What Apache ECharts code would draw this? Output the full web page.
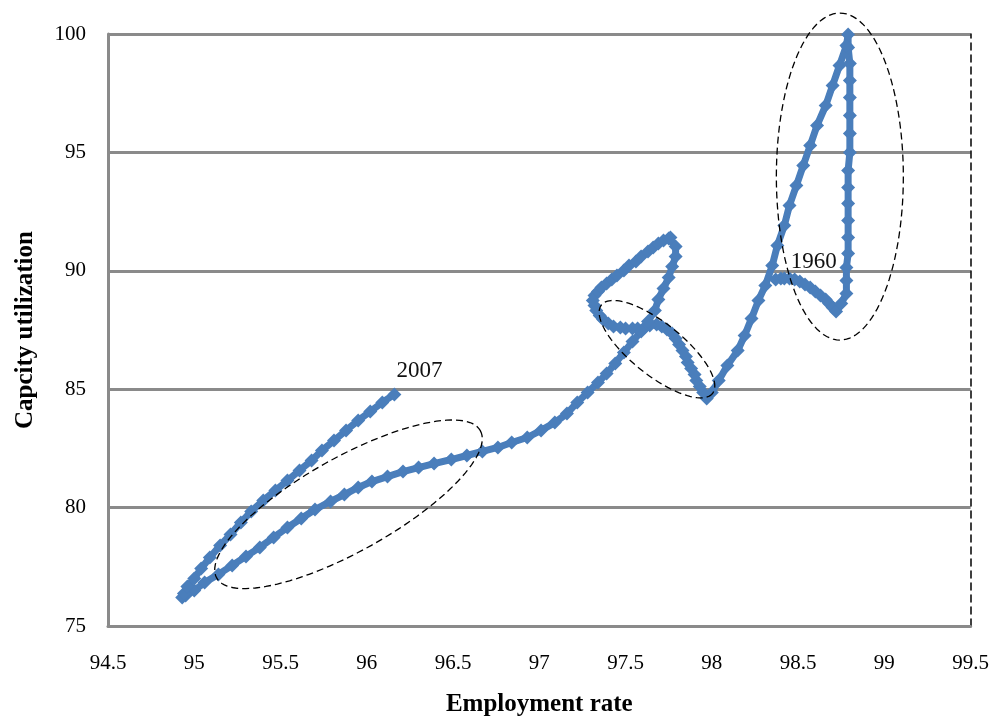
<!DOCTYPE html>
<html><head><meta charset="utf-8">
<script src="https://cdn.jsdelivr.net/npm/echarts@6/dist/echarts.min.js"></script>
<style>html,body{margin:0;padding:0;background:#fff}#c{width:992px;height:725px}</style>
</head><body><div id="c"></div>
<script>
// Employment rate (x) and capacity utilization (y), 1960 -> 2007
const employmentRate = [
  98.37,98.40,98.42,98.45,98.48,98.51,98.54,98.57,98.60,98.63,98.66,98.68,98.70,98.72,98.75,98.78,
  98.78,98.78,98.79,98.79,98.79,98.79,98.79,98.79,98.80,98.80,98.80,98.80,98.80,98.80,98.79,98.79,
  98.78,98.74,98.70,98.66,98.61,98.57,98.53,98.49,98.45,98.42,98.38,98.35,98.31,98.27,98.23,98.19,98.15,98.09,98.04,98.00,97.97,
  97.95,97.93,97.91,97.90,97.88,97.86,97.85,97.83,97.81,97.79,97.77,97.74,97.71,97.68,97.64,97.61,97.57,97.54,97.50,97.47,97.43,97.40,97.37,97.35,97.33,97.32,97.31,97.32,97.34,
  97.36,97.39,97.42,97.45,97.49,97.52,97.56,97.59,97.63,97.66,97.69,97.72,97.75,97.76,
  97.79,97.79,97.77,97.75,97.72,97.69,97.67,97.63,97.59,97.54,97.49,97.44,97.39,97.34,97.28,97.22,97.16,97.09,97.01,96.93,96.84,96.76,96.67,96.58,96.49,96.39,96.30,96.21,96.12,96.03,95.95,95.87,95.79,95.70,95.62,95.54,95.46,95.38,95.30,95.22,95.14,95.06,95.00,94.95,94.93,
  94.94,94.96,95.00,95.04,95.09,95.15,95.21,95.27,95.33,95.40,95.47,95.54,95.61,95.68,95.74,95.81,95.88,95.95,96.02,96.09,96.16
];
const capacityUtilization = [
  89.63,89.67,89.67,89.67,89.63,89.55,89.42,89.30,89.13,88.96,88.79,88.62,88.45,88.28,88.62,89.04,
  89.59,90.14,90.73,91.41,92.12,92.84,93.52,94.24,95.00,95.80,96.56,97.32,98.04,98.75,99.43,99.98,
  99.51,98.67,97.83,96.98,96.14,95.29,94.45,93.60,92.76,91.91,91.07,90.22,89.38,88.75,87.99,87.27,86.63,86.00,85.37,84.86,84.61,
  84.86,85.11,85.37,85.62,85.87,86.13,86.38,86.63,86.89,87.14,87.35,87.52,87.65,87.73,87.69,87.61,87.56,87.56,87.56,87.61,87.65,87.77,87.94,88.11,88.32,88.53,88.75,88.96,89.13,
  89.29,89.46,89.63,89.80,90.01,90.22,90.39,90.60,90.82,90.98,91.15,91.28,91.36,91.41,
  91.03,90.60,90.18,89.72,89.25,88.79,88.32,87.86,87.44,87.01,86.55,86.09,85.66,85.28,84.86,84.44,83.97,83.59,83.26,82.96,82.75,82.54,82.37,82.20,82.03,81.86,81.69,81.52,81.31,81.10,80.85,80.55,80.26,79.92,79.54,79.16,78.74,78.32,77.94,77.56,77.18,76.84,76.50,76.29,76.20,
  76.37,76.67,77.01,77.43,77.89,78.40,78.86,79.37,79.84,80.30,80.72,81.14,81.57,81.99,82.41,82.83,83.26,83.68,84.06,84.44,84.78
];
const startYear = '1960';
const endYear = '2007';
const xTicks = [94.5, 95, 95.5, 96, 96.5, 97, 97.5, 98, 98.5, 99, 99.5];
const yTicks = [75, 80, 85, 90, 95, 100];
const xTitle = 'Employment rate';
const yTitle = 'Capcity utilization';

// annotation ellipses: centre in data units, radii in pixels, rotation in degrees
const ellipseCenters = [[98.742, 93.98], [97.682, 86.69], [95.894, 80.14]];
const ellipseRadii = [[63.5, 163.5], [71, 26], [151, 47]];
const ellipseRot = [0, 38.6, -29.2];

const FONT = '"Liberation Serif", "Times New Roman", serif';
const chart = echarts.init(document.getElementById('c'), null, {renderer: 'canvas'});

const data = employmentRate.map((x, i) => [x, capacityUtilization[i]]);
const seriesData = data.map((v, i) => {
  if (i === 0) return {value: v, label: {show: true, formatter: startYear, position: 'right', offset: [3, -18]}};
  if (i === data.length - 1) return {value: v, label: {show: true, formatter: endYear, position: 'right', offset: [-10, -23]}};
  return v;
});

const gridColor = '#8a8a8a';
chart.setOption({
  animation: false,
  backgroundColor: '#fff',
  grid: {left: 108, right: 21, top: 34, bottom: 99, containLabel: false},
  xAxis: {
    type: 'value', min: xTicks[0], max: xTicks[xTicks.length - 1], interval: 0.5,
    name: xTitle, nameLocation: 'middle', nameGap: 66,
    nameTextStyle: {fontFamily: FONT, fontSize: 25, fontWeight: 'bold', color: '#000'},
    axisLine: {show: true, onZero: false, lineStyle: {color: gridColor, width: 3}},
    axisTick: {show: false},
    axisLabel: {fontFamily: FONT, fontSize: 21, color: '#000', margin: 27},
    splitLine: {show: false}
  },
  yAxis: [{
    type: 'value', min: yTicks[0], max: yTicks[yTicks.length - 1], interval: 5,
    name: yTitle, nameLocation: 'middle', nameGap: 70,
    nameTextStyle: {fontFamily: FONT, fontSize: 25, fontWeight: 'bold', color: '#000'},
    axisLine: {show: true, onZero: false, lineStyle: {color: gridColor, width: 3}},
    axisTick: {show: false},
    axisLabel: {fontFamily: FONT, fontSize: 21, color: '#000', margin: 22},
    splitLine: {show: true, lineStyle: {color: gridColor, width: 3}}
  }, {
    type: 'value', position: 'right', min: yTicks[0], max: yTicks[yTicks.length - 1], interval: 5,
    axisLine: {show: true, onZero: false, lineStyle: {color: '#000', width: 1.5, type: [7, 5]}},
    axisTick: {show: false}, axisLabel: {show: false}, splitLine: {show: false}
  }],
  series: [{
    type: 'line',
    data: seriesData,
    showAllSymbol: true,
    symbol: 'diamond',
    symbolSize: 14,
    itemStyle: {color: '#4A7EBB'},
    lineStyle: {color: '#4A7EBB', width: 7},
    label: {fontFamily: FONT, fontSize: 23, color: '#111'},
    z: 3
  }]
});

function ellipsePoints(c, rx, ry, deg) {
  const th = deg * Math.PI / 180, pts = [];
  for (let k = 0; k < 120; k++) {
    const t = 2 * Math.PI * k / 120;
    const ex = rx * Math.cos(t), ey = ry * Math.sin(t);
    pts.push([c[0] + ex * Math.cos(th) - ey * Math.sin(th), c[1] + ex * Math.sin(th) + ey * Math.cos(th)]);
  }
  return pts;
}
const graphics = ellipseCenters.map((ctr, i) => {
  const p = chart.convertToPixel({xAxisIndex: 0, yAxisIndex: 0}, ctr);
  return {
    type: 'polygon', z: 100, silent: true,
    shape: {points: ellipsePoints(p, ellipseRadii[i][0], ellipseRadii[i][1], ellipseRot[i])},
    style: {fill: null, stroke: '#000', lineWidth: 1.3, lineDash: [7, 4]}
  };
});
chart.setOption({graphic: graphics});
</script></body></html>
